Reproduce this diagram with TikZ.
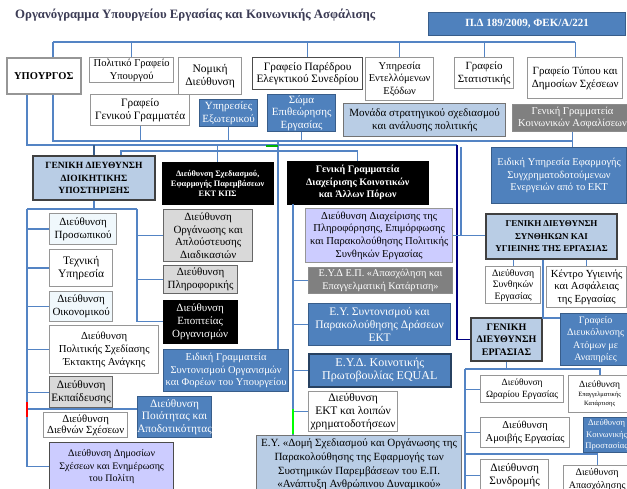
\documentclass[tikz,border=0pt]{standalone}
\usepackage{fontspec}
\setmainfont{Liberation Serif}
\definecolor{cblue}{RGB}{79,129,189}
\definecolor{cbluedk}{RGB}{56,93,138}
\definecolor{cltblue}{RGB}{185,205,229}
\definecolor{clav}{RGB}{204,204,255}
\definecolor{cgray}{RGB}{217,217,217}
\definecolor{cdgray}{RGB}{128,128,128}
\definecolor{ccyan}{RGB}{240,248,252}
\definecolor{ctitle}{RGB}{60,60,85}
\definecolor{cline}{RGB}{84,132,196}
\definecolor{cbord}{RGB}{150,150,150}
\newcommand\Bx[7]{%
  \pgfmathsetmacro\mybw{#5-#3}\pgfmathsetmacro\mybh{#6-#4}%
  \node[#1,anchor=north west,minimum width=\mybw pt,minimum height=\mybh pt,inner sep=0pt] (#2) at (#3,#4) {};
  \node[#1,draw=none,fill=none,inner sep=0pt,anchor=center,align=center] (#2-t) at (#2.center) {#7};}
\begin{document}
\begin{tikzpicture}[x=1pt,y=-1pt,
  base/.style={inner sep=1pt, align=center, font=\fontsize{10}{12.5}\selectfont},
  fz/.style={font=\fontsize{#1}{12.8}\selectfont},
  fzb/.style={font=\fontsize{#1}{12.8}\selectfont\bfseries},
  wbox/.style={base, fill=white, draw=cbord, line width=1.3pt},
  cbox/.style={wbox, fill=ccyan},
  gbox/.style={base, fill=cgray, draw=black!60, line width=1.3pt},
  lbox/.style={base, fill=clav, draw=cbord, line width=1.3pt},
  bbox/.style={base, fill=cblue, draw=cbluedk, line width=1.2pt, text=white},
  kbox/.style={base, fill=black, draw=black, text=white, font=\fontsize{10}{12.5}\selectfont\bfseries},
  dbox/.style={base, fill=cdgray, draw=black!45, line width=1pt, text=white},
  gdbox/.style={base, fill=cltblue, draw=black!75, line width=2pt, font=\fontsize{9.5}{12.5}\selectfont\bfseries},
  tbox/.style={base, fill=cltblue, draw=black!55, line width=1.3pt},
  conn/.style={draw=cline, line width=1.3pt}]
\useasboundingbox[fill=white] (0,0) rectangle (627,489);
\clip (0,0) rectangle (627,489);

\node[anchor=west, text=ctitle, font=\fontsize{12.8}{14}\selectfont\bfseries, inner sep=0pt] (title) at (15,15) {Οργανόγραμμα Υπουργείου Εργασίας και Κοινωνικής Ασφάλισης};

% top row
\Bx{wbox,line width=1.6pt,font=\fontsize{10.5}{12}\selectfont\bfseries}{minister}{6}{57}{80}{93}{ΥΠΟΥΡΓΟΣ}
\Bx{wbox,fz=10.5}{polgr}{89}{57}{173}{82}{Πολιτικό Γραφείο\\Υπουργού}
\Bx{wbox,fz=11.5}{nomiki}{178}{57}{241}{94}{Νομική\\Διεύθυνση}
\Bx{wbox,draw=black!70,fz=11.3}{paredr}{252}{57}{362}{89}{Γραφείο Παρέδρου\\Ελεγκτικού Συνεδρίου}
\Bx{wbox,fz=10.5}{entell}{365}{57}{433}{100}{Υπηρεσία\\Εντελλόμενων\\Εξόδων}
\Bx{wbox,fz=11}{statist}{454}{57}{513}{88}{Γραφείο\\Στατιστικής}
\Bx{wbox,fz=11}{typou}{527}{57}{622}{98}{Γραφείο Τύπου και\\Δημοσίων Σχέσεων}
\Bx{bbox,fzb=11}{pd}{428}{12}{625}{35}{Π.Δ 189/2009, ΦΕΚ/Α/221}

% second row
\Bx{wbox,fz=11.3}{gengram}{90}{94}{189}{125}{Γραφείο\\Γενικού Γραμματέα}
\Bx{bbox,fz=11}{exoter}{199}{99}{257}{126}{Υπηρεσίες\\Εξωτερικού}
\Bx{bbox,fz=11}{soma}{267}{94}{335}{131}{Σώμα\\Επιθεώρησης\\Εργασίας}
\Bx{tbox,fz=11}{monada}{343}{103}{505}{136}{Μονάδα στρατηγικού σχεδιασμού\\και ανάλυσης πολιτικής}
\Bx{dbox,fz=10.5}{ggka}{512}{104}{632}{131}{Γενική Γραμματεία\\Κοινωνικών Ασφαλίσεων}
\Bx{bbox,fz=10.5}{eidyp}{491}{147}{626}{203}{Ειδική Υπηρεσία Εφαρμογής\\Συγχρηματοδοτούμενων\\Ενεργειών από το ΕΚΤ}

% third row
\Bx{gdbox}{gdds}{32}{155}{154}{199}{ΓΕΝΙΚΗ ΔΙΕΥΘΥΝΣΗ\\ΔΙΟΙΚΗΤΙΚΗΣ\\ΥΠΟΣΤΗΡΙΞΗΣ}
\Bx{kbox,font=\fontsize{8.3}{10}\selectfont\bfseries}{sxed}{162}{162}{273}{204}{Διεύθυνση Σχεδιασμού,\\Εφαρμογής Παρεμβάσεων\\ΕΚΤ ΚΠΣ}
\Bx{kbox}{ggdk}{287}{161}{428}{204}{Γενική Γραμματεία\\Διαχείρισης Κοινοτικών\\και Άλλων Πόρων}

% left column
\Bx{cbox,fz=11}{prosop}{49}{213}{116}{244}{Διεύθυνση\\Προσωπικού}
\Bx{wbox,fz=11.5}{techn}{49}{249}{112}{286}{Τεχνική\\Υπηρεσία}
\Bx{cbox,fz=11}{oikon}{49}{291}{112}{321}{Διεύθυνση\\Οικονομικού}
\Bx{wbox,fz=10.7}{politik}{49}{325}{158}{373}{Διεύθυνση\\Πολιτικής Σχεδίασης\\Έκτακτης Ανάγκης}
\Bx{gbox,fz=11.3}{ekpaid}{49}{376}{112}{407}{Διεύθυνση\\Εκπαίδευσης}
\Bx{wbox,font=\fontsize{10.8}{11.5}\selectfont}{diethn}{43}{412}{127}{437}{Διεύθυνση\\Διεθνών Σχέσεων}
\Bx{lbox,draw=black!70,fz=10}{dimos}{49}{442}{173}{490}{Διεύθυνση Δημοσίων\\Σχέσεων και Ενημέρωσης\\του Πολίτη}
\Bx{gbox,font=\fontsize{11}{12.4}\selectfont}{organ}{163}{209}{252}{261}{Διεύθυνση\\Οργάνωσης και\\Απλούστευσης\\Διαδικασιών}
\Bx{gbox,fz=11}{plir}{163}{265}{237}{293}{Διεύθυνση\\Πληροφορικής}
\Bx{kbox,font=\fontsize{11}{13}\selectfont}{epopt}{163}{300}{237}{343}{Διεύθυνση\\Εποπτείας\\Οργανισμών}
\Bx{bbox,fz=10.5}{eidgram}{163}{349}{288}{391}{Ειδική Γραμματεία\\Συντονισμού Οργανισμών\\και Φορέων του Υπουργείου}
\Bx{bbox,fz=11.3}{poiot}{137}{396}{211}{437}{Διεύθυνση\\Ποιότητας και\\Αποδοτικότητας}

% middle column
\Bx{lbox,font=\fontsize{10.6}{12.7}\selectfont}{diax}{305}{208}{452}{262}{Διεύθυνση Διαχείρισης της\\Πληροφόρησης, Επιμόρφωσης\\και Παρακολούθησης Πολιτικής\\Συνθηκών Εργασίας}
\Bx{dbox,fz=10.3}{eyd}{308}{267}{452}{293}{Ε.Υ.Δ Ε.Π. «Απασχόληση και\\Επαγγελματική Κατάρτιση»}
\Bx{bbox,font=\fontsize{11.5}{12.8}\selectfont}{eysyn}{308}{303}{450}{345}{Ε.Υ. Συντονισμού και\\Παρακολούθησης Δράσεων\\ΕΚΤ}
\Bx{bbox,draw=cbluedk!70!black,line width=1.6pt,fz=12}{equal}{308}{353}{450}{386}{Ε.Υ.Δ. Κοινοτικής\\Πρωτοβουλίας EQUAL}
\Bx{wbox,font=\fontsize{11.5}{13}\selectfont}{ekt}{308}{391}{397}{431}{Διεύθυνση\\ΕΚΤ και λοιπών\\χρηματοδοτήσεων}
\Bx{tbox,font=\fontsize{11}{13.7}\selectfont}{domi}{256}{435}{461}{493}{Ε.Υ. «Δομή Σχεδιασμού και Οργάνωσης της\\Παρακολούθησης της Εφαρμογής των\\Συστημικών Παρεμβάσεων του Ε.Π.\\«Ανάπτυξη Ανθρώπινου Δυναμικού»}

% right column
\Bx{gdbox,font=\fontsize{9}{12.5}\selectfont\bfseries}{gdsyn}{485}{213}{616}{258}{ΓΕΝΙΚΗ ΔΙΕΥΘΥΝΣΗ\\ΣΥΝΘΗΚΩΝ ΚΑΙ\\ΥΓΙΕΙΝΗΣ ΤΗΣ ΕΡΓΑΣΙΑΣ}
\Bx{wbox,font=\fontsize{9.8}{11.5}\selectfont}{dsyn}{485}{266}{540}{303}{Διεύθυνση\\Συνθηκών\\Εργασίας}
\Bx{wbox,font=\fontsize{10.8}{12.5}\selectfont}{kentro}{546}{266}{626}{307}{Κέντρο Υγιεινής\\και Ασφάλειας\\της Εργασίας}
\Bx{bbox,font=\fontsize{10}{12.5}\selectfont}{gdiev}{560}{313}{630}{365}{Γραφείο\\Διευκόλυνσης\\Ατόμων με\\Αναπηρίες}
\Bx{gdbox,font=\fontsize{10}{12.5}\selectfont\bfseries}{gderg}{470}{317}{541}{360}{ΓΕΝΙΚΗ\\ΔΙΕΥΘΥΝΣΗ\\ΕΡΓΑΣΙΑΣ}
\Bx{wbox,fz=9.5}{orar}{480}{375}{563}{402}{Διεύθυνση\\Ωραρίου Εργασίας}
\Bx{wbox,font=\fontsize{6.5}{9}\selectfont}{epag}{568}{375}{630}{412}{{\fontsize{9.5}{9}\selectfont Διεύθυνση}\\Επαγγελματικής\\Κατάρτισης}
\Bx{wbox,fz=10.5}{amoiv}{480}{417}{569}{447}{Διεύθυνση\\Αμοιβής Εργασίας}
\Bx{bbox,font=\fontsize{8.6}{11.5}\selectfont}{koin}{583}{417}{629}{452}{Διεύθυνση\\Κοινωνικής\\Προστασίας}
\Bx{wbox,fz=11.3}{syndr}{480}{459}{548}{490}{Διεύθυνση\\Συνδρομής}
\Bx{wbox,fz=10}{apasx}{563}{465}{630}{492}{Διεύθυνση\\Απασχόλησης}

% ---- connectors ----
\coordinate (busT) at (53,42);
\draw[conn] (busT) -- (busT -| typou.north);
\draw[conn] (busT) -- (busT |- minister.north);
\foreach \n in {polgr,paredr,entell,statist,typou} \draw[conn] (\n.north) -- (\n.north |- busT);

\coordinate (busA) at (53,141);
\draw[conn] (minister.south -| busA) -- (busA) -- (busA -| ggka.south);
\foreach \n in {gengram,exoter,soma} \draw[conn] (\n.south) -- (\n.south |- busA);
\draw[conn] (ggka.south) -- (ggka.south |- eidyp.north);

\coordinate (busB) at (27,145);
\coordinate (busBr) at (457,145);
\draw[conn] (minister.south -| busB) -- (busB) -- (busBr);
\draw[conn, draw=blue!50!black] (busBr) -- (busBr |- gderg.west) -- (gderg.west);
\draw[conn, draw=cbluedk] (gdds.north) -- (gdds.north |- busB);
\draw[conn] (sxed.north) -- (sxed.north |- busB);
\coordinate (vE) at (278,141);
\draw[conn] (vE) -- (vE |- eidgram.north);
\draw[line width=1.4pt, green!70!black] (vE) ++(-12,5) -- ++(12,0);

\coordinate (busC) at (121,151);
\draw[conn] (gdds.north -| busC) -- (busC) -- (busC -| ggdk.north) -- (ggdk.north);

\coordinate (v461) at (461,147);
\draw[conn] (v461) -- (v461 |- gdsyn.west);
\draw[conn] (diax.east) -- (diax.east -| gdsyn.west);

% left tree
\coordinate (lt) at (27,209);
\coordinate (rt) at (137,209);
\draw[conn] (gdds.south) -- (gdds.south |- lt);
\draw[conn] (lt) -- (rt);
\draw[conn] (lt) -- (lt |- dimos.west) -- (dimos.west);
\draw[conn] (rt) -- (rt |- epopt.west) -- (epopt.west);
\foreach \n in {prosop,techn,oikon,politik,ekpaid} \draw[conn] (\n.west) -- (\n.west -| lt);
\foreach \n in {organ,plir} \draw[conn] (\n.west) -- (\n.west -| rt);
\coordinate (pq) at (27,409);
\draw[conn] (pq) -- (pq -| poiot.west);
\draw[line width=1.4pt, red] (pq) ++(0,-7) -- ++(0,15);

% middle tree
\coordinate (mv) at (293,204);
\draw[conn] (mv) -- (mv |- domi.north);
\foreach \n in {eyd,eysyn,equal,ekt} \draw[conn] (\n.west) -- (\n.west -| mv);
\draw[line width=1.4pt, green] (mv |- domi.north) ++(0,-26) -- ++(0,25);

% right tree
\draw[conn] (dsyn.north) -- (dsyn.north |- gdsyn.south);
\draw[conn] (kentro.north) -- (kentro.north |- gdsyn.south);
\coordinate (gvb) at (543,318);
\draw[conn] (gvb |- gdsyn.south) -- (gvb) -- (gvb -| gdiev.west);

\coordinate (bl) at (465,369);
\coordinate (br) at (600,369);
\draw[conn] (gderg.south) -- (gderg.south |- bl);
\draw[conn] (bl) -- (br) -- (br |- epag.north);
\draw[conn] (bl) -- (bl |- syndr.south);
\foreach \n in {orar,amoiv,syndr} \draw[conn] (\n.west) -- (\n.west -| bl);
\coordinate (bb) at (465,454);
\draw[conn] (bb) -- (bb -| apasx.north) -- (apasx.north);
\end{tikzpicture}
\end{document}
